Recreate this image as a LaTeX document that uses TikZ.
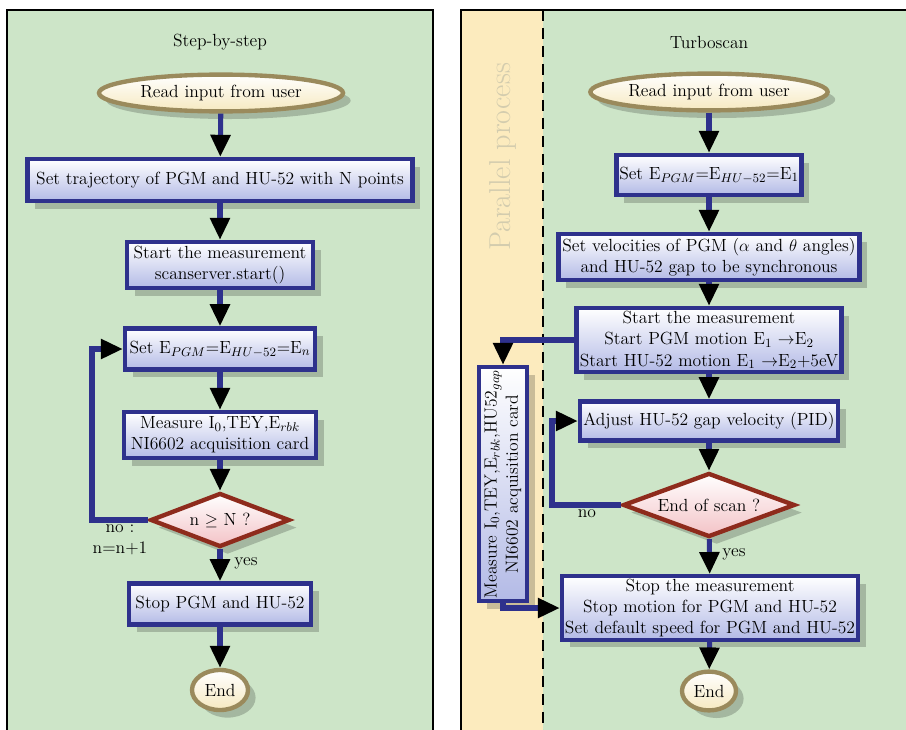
\documentclass[tikz,border=0pt]{standalone}
\usepackage{tikz}
\usetikzlibrary{shapes.geometric,shadows,arrows.meta}

\definecolor{panelgreen}{HTML}{CDE5C8}
\definecolor{stripyellow}{HTML}{FCEBBE}
\definecolor{boxblue}{HTML}{2E318C}
\definecolor{boxlav}{HTML}{B3BAE6}
\definecolor{decred}{HTML}{8E2B1C}
\definecolor{decpink}{HTML}{F3C2C6}
\definecolor{termtan}{HTML}{9A8A5C}
\definecolor{termcream}{HTML}{F6E9C0}
\definecolor{paratext}{HTML}{D3CCAE}

\begin{document}
\begin{tikzpicture}[x=0.025cm, y=-0.025cm,
          font=\fontsize{12.5}{15}\selectfont,
          dshadow/.style={drop shadow={shadow xshift=0.19cm, shadow yshift=-0.19cm, fill=black, opacity=0.2}},
          box/.style={draw=boxblue, line width=3.1pt, top color=white, bottom color=boxlav, align=center, inner sep=2pt, dshadow},
          dec/.style={diamond, draw=decred, line width=3.1pt, top color=white, bottom color=decpink, aspect=2.5, inner sep=0pt, dshadow},
          term/.style={ellipse, draw=termtan, line width=3.1pt, top color=white, bottom color=termcream, inner sep=0pt, dshadow},
          flow/.style={draw=boxblue, line width=3.6pt, -{Triangle[length=0.55cm, width=0.48cm, color=black]}}
        ]
          \useasboundingbox (0,0) rectangle (906,729);
          \clip (0,0) rectangle (906,729);

          % panels
          \fill[panelgreen] (7,10) rectangle (433,760);
          \draw[line width=1pt] (7,10) rectangle (433,760);
          \fill[panelgreen] (461,10) rectangle (930,760);
          \fill[stripyellow] (461,10) rectangle (543,760);
          \draw[line width=1pt] (461,10) rectangle (930,760);
          \draw[line width=1.2pt, dash pattern=on 7.8pt off 5pt] (543,10) -- (543,760);

          % step-by-step
          \node (ttlL) at (220,42) {Step-by-step};
          \node[term, minimum width=6.1cm, minimum height=0.92cm] (readL) at (221,93) {Read input from user};
          \node[box, minimum width=9.63cm, minimum height=1.05cm] (trajL) at (220,180) {Set trajectory of PGM and HU-52 with N points};
          \node[box, minimum width=4.65cm, minimum height=1.15cm] (startL) at (220,265) {Start the measurement\\scanserver.start()};
          \node[box, minimum width=4.75cm, minimum height=1.03cm] (setL) at (220,349) {Set E$_{PGM}$=E$_{HU-52}$=E$_n$};
          \node[box, minimum width=4.8cm, minimum height=1.15cm] (measL) at (220,435) {Measure I$_0$,TEY,E$_{rbk}$\\NI6602 acquisition card};
          \node[dec, minimum width=3.48cm, minimum height=1.35cm] (testL) at (220,520) {n $\geq$ N ?};
          \node[box, minimum width=4.55cm, minimum height=1.03cm] (stopL) at (220,604) {Stop PGM and HU-52};
          \node[term, minimum width=1.4cm, minimum height=1.0cm] (endL) at (220,690) {End};
          \coordinate (loopL) at (92,0);
          \node[align=center] (noL) at (120,540) {no :\\n=n+1};
          \node (yesL) at (246,563) {yes};

          \draw[flow] (readL) -- (trajL);
          \draw[flow] (trajL) -- (startL);
          \draw[flow] (startL) -- (setL);
          \draw[flow] (setL) -- (measL);
          \draw[flow] (measL) -- (testL);
          \draw[flow] (testL) -- (stopL);
          \draw[flow] (stopL) -- (endL);
          \draw[flow] (testL.west) -- (testL.west -| loopL) |- (setL.west);

          % turboscan
          \node (ttlR) at (709,42) {Turboscan};
          \node[rotate=90, text=paratext, font=\fontsize{21.5}{25}\selectfont] (paraR) at (503,157) {Parallel process};
          \node[term, minimum width=5.93cm, minimum height=0.92cm] (readR) at (709,92) {Read input from user};
          \node[box, minimum width=4.55cm, minimum height=1.0cm] (setR) at (709,175) {Set E$_{PGM}$=E$_{HU-52}$=E$_1$};
          \node[box, minimum width=7.53cm, minimum height=1.15cm] (veloR) at (709,257) {Set velocities of PGM ($\alpha$ and $\theta$ angles)\\and HU-52 gap to be synchronous};
          \node[box, minimum width=6.63cm, minimum height=1.6cm] (startR) at (709,340) {Start the measurement\\Start PGM motion E$_1$ $\rightarrow$E$_2$\\Start HU-52 motion E$_1$ $\rightarrow$E$_2$+5eV};
          \node[box, minimum width=6.45cm, minimum height=0.98cm] (adjR) at (709,421) {Adjust HU-52 gap velocity (PID)};
          \node[dec, minimum width=4.3cm, minimum height=1.6cm] (testR) at (709,505) {End of scan ?};
          \node[box, minimum width=7.4cm, minimum height=1.55cm] (stopR) at (710,608) {Stop the measurement\\Stop motion for PGM and HU-52\\Set default speed for PGM and HU-52};
          \node[term, minimum width=1.35cm, minimum height=0.97cm] (endR) at (709,691) {End};
          \node[box, minimum width=1.1cm, minimum height=5.8cm] (measR) at (503,484) {\rotatebox{90}{\begin{tabular}{@{}c@{}}Measure I$_0$,TEY,E$_{rbk}$,HU52$_{gap}$\\NI6602 acquisition card\end{tabular}}};
          \coordinate (loopR) at (552,0);
          \node (noR) at (587,514) {no};
          \node (yesR) at (734,554) {yes};

          \draw[flow] (readR) -- (setR);
          \draw[flow] (setR) -- (veloR);
          \draw[flow] (veloR) -- (startR);
          \draw[flow] (startR) -- (adjR);
          \draw[flow] (adjR) -- (testR);
          \draw[flow] (testR) -- (stopR);
          \draw[flow] (stopR) -- (endR);
          \draw[flow] (testR.west) -- (testR.west -| loopR) |- (adjR.west);
          \draw[flow] (startR.west) -| (measR.north);
          \draw[flow] (measR.south) |- (stopR.west);
        \end{tikzpicture}
\end{document}
